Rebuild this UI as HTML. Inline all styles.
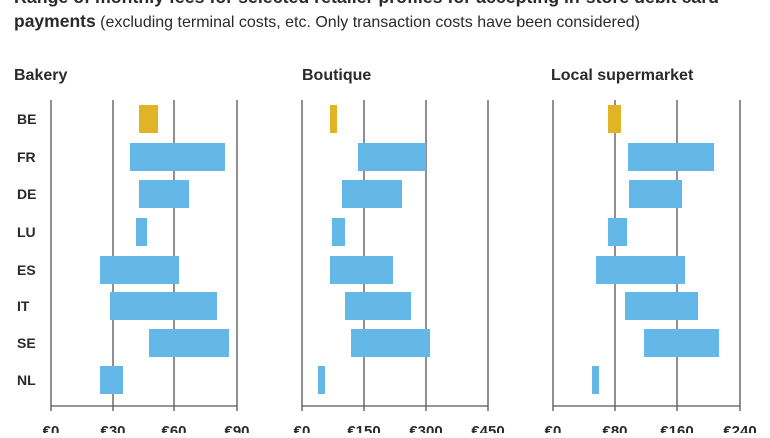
<!DOCTYPE html>
<html><head><style>
body{margin:0;background:#fff;width:770px;height:433px;overflow:hidden;font-family:"Liberation Sans",sans-serif;color:#2a2a2a}
</style></head><body>
<svg width="770" height="433" xmlns="http://www.w3.org/2000/svg" font-family="Liberation Sans, sans-serif" fill="#2a2a2a">
<text x="14" y="3" font-size="17.5" font-weight="bold" textLength="705" lengthAdjust="spacingAndGlyphs">Range of monthly fees for selected retailer profiles for accepting in-store debit card</text>
<text x="14" y="27" font-size="17.5"><tspan font-weight="bold">payments</tspan><tspan font-size="16"> (excluding terminal costs, etc. Only transaction costs have been considered)</tspan></text>
<g font-size="16" font-weight="bold">
<text x="14" y="80">Bakery</text><text x="302" y="80">Boutique</text><text x="551" y="80">Local supermarket</text>
</g>
<g font-size="14" font-weight="bold">
<text x="17" y="124">BE</text><text x="17" y="162">FR</text><text x="17" y="199">DE</text><text x="17" y="237">LU</text><text x="17" y="275">ES</text><text x="17" y="311">IT</text><text x="17" y="348">SE</text><text x="17" y="385">NL</text>
</g>
<g stroke="#555" stroke-width="1.3">
<line x1="51" y1="100" x2="51" y2="411"/><line x1="113" y1="100" x2="113" y2="411"/><line x1="174" y1="100" x2="174" y2="411"/><line x1="237" y1="100" x2="237" y2="411"/><line x1="51" y1="406" x2="237" y2="406"/>
<line x1="302" y1="100" x2="302" y2="411"/><line x1="364" y1="100" x2="364" y2="411"/><line x1="426" y1="100" x2="426" y2="411"/><line x1="488" y1="100" x2="488" y2="411"/><line x1="302" y1="406" x2="488" y2="406"/>
<line x1="553" y1="100" x2="553" y2="411"/><line x1="615" y1="100" x2="615" y2="411"/><line x1="677" y1="100" x2="677" y2="411"/><line x1="740" y1="100" x2="740" y2="411"/><line x1="553" y1="406" x2="740" y2="406"/>
</g>
<g fill="#e0b425">
<rect x="139" y="105" width="19" height="28"/><rect x="330" y="105" width="7" height="28"/><rect x="608" y="105" width="13" height="28"/>
</g>
<g fill="#64b8e8">
<rect x="130" y="143" width="95" height="28"/><rect x="139" y="180" width="50" height="28"/><rect x="136" y="218" width="11" height="28"/><rect x="100" y="256" width="79" height="28"/><rect x="110" y="292" width="107" height="28"/><rect x="149" y="329" width="80" height="28"/><rect x="100" y="366" width="23" height="28"/>
<rect x="358" y="143" width="68" height="28"/><rect x="342" y="180" width="60" height="28"/><rect x="332" y="218" width="13" height="28"/><rect x="330" y="256" width="63" height="28"/><rect x="345" y="292" width="66" height="28"/><rect x="351" y="329" width="79" height="28"/><rect x="318" y="366" width="7" height="28"/>
<rect x="628" y="143" width="86" height="28"/><rect x="629" y="180" width="53" height="28"/><rect x="608" y="218" width="19" height="28"/><rect x="596" y="256" width="89" height="28"/><rect x="625" y="292" width="73" height="28"/><rect x="644" y="329" width="75" height="28"/><rect x="592" y="366" width="7" height="28"/>
</g>
<g font-size="15" font-weight="bold" text-anchor="middle">
<text x="51" y="436">€0</text><text x="113" y="436">€30</text><text x="174" y="436">€60</text><text x="237" y="436">€90</text>
<text x="302" y="436">€0</text><text x="364" y="436">€150</text><text x="426" y="436">€300</text><text x="488" y="436">€450</text>
<text x="553" y="436">€0</text><text x="615" y="436">€80</text><text x="677" y="436">€160</text><text x="740" y="436">€240</text>
</g>
</svg>
</body></html>
